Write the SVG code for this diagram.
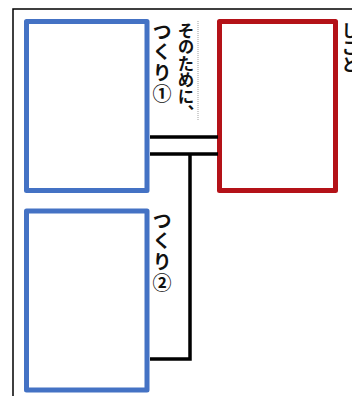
<svg xmlns="http://www.w3.org/2000/svg" width="352" height="396" viewBox="0 0 352 396">
<style>
.frame{fill:none;stroke:#000;stroke-width:1.5}
.blue{fill:#fff;stroke:#4472C4;stroke-width:5;stroke-linejoin:round}
.red{fill:#fff;stroke:#B41218;stroke-width:5;stroke-linejoin:round}
.conn{fill:none;stroke:#000;stroke-width:3.5}
.vt{font-family:"Noto Sans CJK JP","Noto Sans",sans-serif;font-weight:bold;writing-mode:vertical-rl;fill:#111}
</style>
<rect width="352" height="396" fill="#fff"/>
<path class="frame" d="M13 396 V9 H352"/>
<g id="box1"><rect class="blue" x="26.5" y="21.5" width="120.5" height="169"/></g>
<g id="box2"><rect class="blue" x="26.5" y="211" width="120.5" height="179"/></g>
<g id="box3"><rect class="red" x="219.5" y="21.5" width="116" height="169"/></g>
<g id="connectors">
<path class="conn" d="M150 137 H218"/>
<path class="conn" d="M150 154 H218"/>
<path class="conn" d="M190 154 V359 H150"/>
</g>
<g id="labels">
<text class="vt" x="162" y="22" font-size="19" letter-spacing="1.6">つくり①</text>
<text class="vt" x="186" y="22" font-size="16.5">そのために、</text>
<line x1="198" y1="21" x2="198" y2="120" stroke="#888" stroke-width="0.8" stroke-dasharray="1 1"/>
<text class="vt" x="162" y="211" font-size="19" letter-spacing="1.6">つくり②</text>
<text class="vt" x="350" y="22" font-size="17">しこと</text>
</g>
</svg>
